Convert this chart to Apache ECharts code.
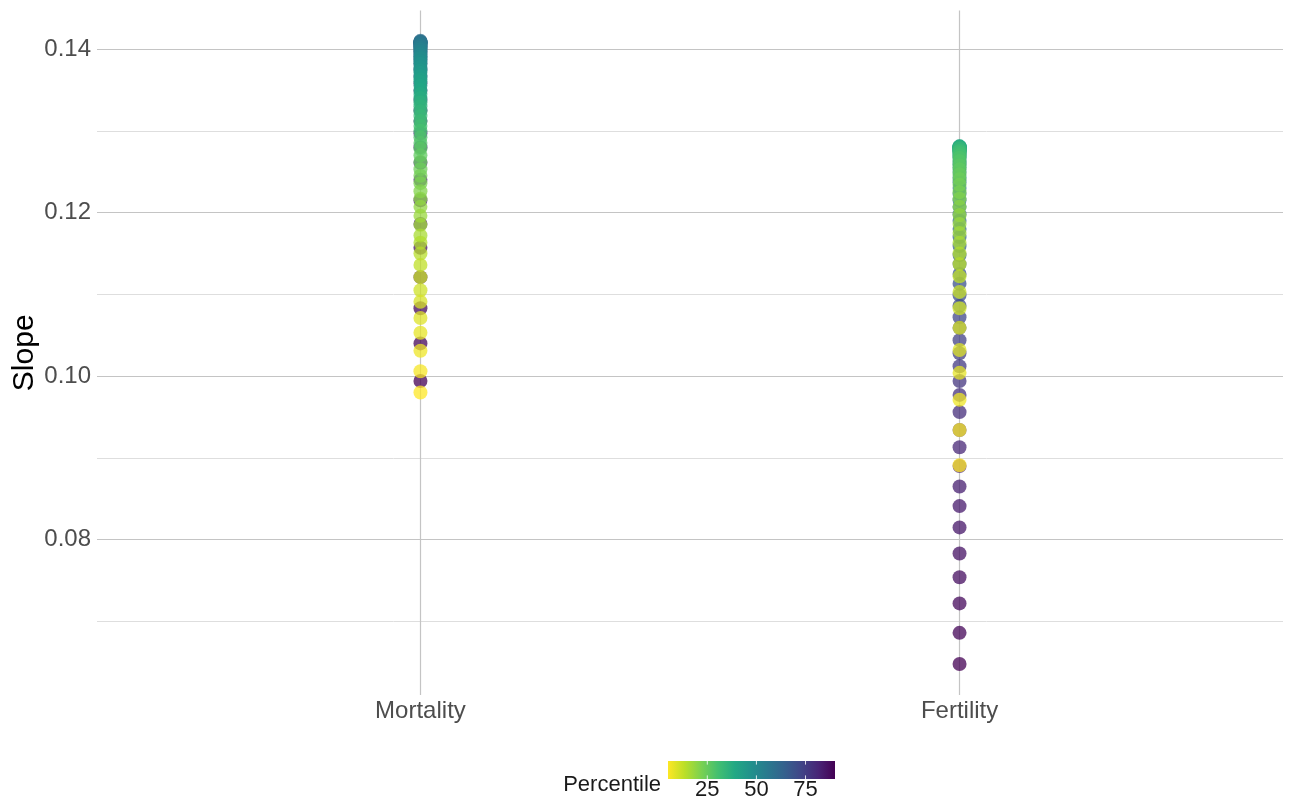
<!DOCTYPE html>
<html>
<head>
<meta charset="utf-8">
<script src="https://cdn.jsdelivr.net/npm/echarts@6/dist/echarts.min.js"></script>
<style>
html, body { margin: 0; padding: 0; background: #fff; }
#chart { width: 1296px; height: 810px; }
</style>
</head>
<body>
<div id="chart"></div>
<script>
// categories on the x axis
var categories = ['Mortality', 'Fertility'];

// percentile of each point (same for both categories)
var percentiles = [
  5, 6, 7, 8, 9, 10, 11, 12, 13, 14, 15, 16, 17, 18, 19, 20, 21, 22, 23, 24,
  25, 26, 27, 28, 29, 30, 31, 32, 33, 34, 35, 36, 37, 38, 39, 40, 41, 42, 43, 44,
  45, 46, 47, 48, 49, 50, 51, 52, 53, 54, 55, 56, 57, 58, 59, 60, 61, 62, 63, 64,
  65, 66, 67, 68, 69, 70, 71, 72, 73, 74, 75, 76, 77, 78, 79, 80, 81, 82, 83, 84,
  85, 86, 87, 88, 89, 90
];

// slope, one per percentile
var mortalitySlope = [
  0.0980, 0.1006, 0.1031, 0.1053, 0.1071, 0.1091, 0.1105, 0.1121, 0.1136, 0.1150,
  0.1163, 0.1172, 0.1185, 0.1196, 0.1207, 0.1217, 0.1226, 0.1236, 0.1245, 0.1253,
  0.1262, 0.1270, 0.1278, 0.1285, 0.1292, 0.1300, 0.1306, 0.1312, 0.1318, 0.1324,
  0.1330, 0.1335, 0.1340, 0.1345, 0.1350, 0.1355, 0.1360, 0.1363, 0.1367, 0.1371,
  0.1374, 0.1378, 0.1382, 0.1385, 0.1389, 0.1391, 0.1394, 0.1397, 0.1400, 0.1402,
  0.1404, 0.1406, 0.1408, 0.1409, 0.1410, 0.1409, 0.1408, 0.1408, 0.1407, 0.1406,
  0.1405, 0.1403, 0.1401, 0.1398, 0.1395, 0.1391, 0.1387, 0.1382, 0.1375, 0.1367,
  0.1358, 0.1349, 0.1338, 0.1325, 0.1312, 0.1297, 0.1280, 0.1261, 0.1240, 0.1215,
  0.1186, 0.1157, 0.1121, 0.1083, 0.1040, 0.0994
];
var fertilitySlope = [
  0.0891, 0.0934, 0.0971, 0.1004, 0.1032, 0.1059, 0.1083, 0.1103, 0.1122, 0.1137,
  0.1150, 0.1163, 0.1175, 0.1186, 0.1197, 0.1207, 0.1217, 0.1225, 0.1234, 0.1241,
  0.1247, 0.1253, 0.1258, 0.1263, 0.1267, 0.1270, 0.1273, 0.1275, 0.1276, 0.1278,
  0.1279, 0.1280, 0.1280, 0.1281, 0.1281, 0.1280, 0.1280, 0.1279, 0.1278, 0.1277,
  0.1276, 0.1275, 0.1274, 0.1272, 0.1269, 0.1267, 0.1263, 0.1259, 0.1255, 0.1250,
  0.1243, 0.1237, 0.1230, 0.1223, 0.1215, 0.1207, 0.1198, 0.1190, 0.1180, 0.1170,
  0.1159, 0.1148, 0.1137, 0.1125, 0.1113, 0.1099, 0.1086, 0.1072, 0.1059, 0.1044,
  0.1028, 0.1012, 0.0994, 0.0977, 0.0956, 0.0934, 0.0913, 0.0890, 0.0865, 0.0841,
  0.0815, 0.0783, 0.0754, 0.0722, 0.0686, 0.0648
];

var yMajorTicks = [0.08, 0.10, 0.12, 0.14];
var yMinorTicks = [0.07, 0.09, 0.11, 0.13];
var legendTicks = [25, 50, 75];

// viridis, low -> high; the chart uses it reversed (yellow = low percentile)
var viridis = ['#440154', '#482576', '#414487', '#35608D', '#2A788E', '#21908C',
               '#22A884', '#43BF71', '#7AD151', '#BBDF27', '#FDE725'];
var viridisRev = viridis.slice().reverse();

var pMin = Math.min.apply(null, percentiles);
var pMax = Math.max.apply(null, percentiles);

// points: [x position, slope, percentile]; high percentiles first so low ones sit on top
var points = [];
[mortalitySlope, fertilitySlope].forEach(function (arr, ci) {
  for (var i = percentiles.length - 1; i >= 0; i--) {
    points.push([ci + 1, arr[i], percentiles[i]]);
  }
});

// grid lines
var gridLines = [];
yMinorTicks.forEach(function (v) {
  gridLines.push({ yAxis: v, lineStyle: { color: '#dedede', width: 1, type: 'solid' } });
});
yMajorTicks.forEach(function (v) {
  gridLines.push({ yAxis: v, lineStyle: { color: '#c4c4c4', width: 1.2, type: 'solid' } });
});
categories.forEach(function (c, i) {
  gridLines.push({ xAxis: i + 1, lineStyle: { color: '#c4c4c4', width: 1.2, type: 'solid' } });
});

// colour bar legend
var bar = { x: 668, y: 761, w: 167, h: 18 };
var legendEls = [];
legendEls.push({
  type: 'rect',
  shape: { x: bar.x, y: bar.y, width: bar.w, height: bar.h },
  style: {
    fill: new echarts.graphic.LinearGradient(0, 0, 1, 0, viridisRev.map(function (c, i) {
      return { offset: i / (viridisRev.length - 1), color: c };
    }))
  }
});
legendTicks.forEach(function (t) {
  var tx = bar.x + (t - pMin) / (pMax - pMin) * bar.w;
  legendEls.push({ type: 'line', shape: { x1: tx, y1: bar.y, x2: tx, y2: bar.y + bar.h / 5 },
    style: { stroke: 'rgba(255,255,255,0.8)', lineWidth: 1 } });
  legendEls.push({ type: 'line', shape: { x1: tx, y1: bar.y + bar.h * 4 / 5, x2: tx, y2: bar.y + bar.h },
    style: { stroke: 'rgba(255,255,255,0.8)', lineWidth: 1 } });
  legendEls.push({ type: 'text', x: tx, y: bar.y + bar.h + 11,
    style: { text: String(t), fill: '#1a1a1a', font: '22px "Liberation Sans", Arial, sans-serif',
      textAlign: 'center', textVerticalAlign: 'middle' } });
});
legendEls.push({ type: 'text', x: bar.x - 7, y: bar.y + 24,
  style: { text: 'Percentile', fill: '#1a1a1a', font: '22px "Liberation Sans", Arial, sans-serif',
    textAlign: 'right', textVerticalAlign: 'middle' } });

var chart = echarts.init(document.getElementById('chart'));
chart.setOption({
  animation: false,
  backgroundColor: '#ffffff',
  textStyle: { fontFamily: '"Liberation Sans", Arial, sans-serif' },
  grid: { left: 97, right: 13, top: 10.6, bottom: 115, containLabel: false, outerBoundsMode: 'none' },
  xAxis: {
    type: 'value',
    min: 0.4,
    max: 2.6,
    axisLine: { show: false },
    axisTick: { show: false },
    splitLine: { show: false },
    axisLabel: {
      customValues: categories.map(function (c, i) { return i + 1; }),
      formatter: function (v) { return categories[Math.round(v) - 1] || ''; },
      fontSize: 24,
      color: '#4d4d4d',
      margin: 4
    }
  },
  yAxis: {
    type: 'value',
    min: 0.0610,
    max: 0.1447,
    name: 'Slope',
    nameLocation: 'middle',
    nameRotate: 90,
    nameGap: 57,
    nameMoveOverlap: false,
    nameTextStyle: { fontSize: 30, color: '#000000' },
    axisLine: { show: false },
    axisTick: { show: false },
    splitLine: { show: false },
    axisLabel: {
      customValues: yMajorTicks,
      formatter: function (v) { return v.toFixed(2); },
      fontSize: 24,
      color: '#4d4d4d',
      margin: 6
    }
  },
  visualMap: {
    type: 'continuous',
    show: false,
    dimension: 2,
    min: pMin,
    max: pMax,
    seriesIndex: 1,
    inRange: { color: viridisRev }
  },
  graphic: legendEls,
  series: [
    {
      type: 'scatter',
      data: [],
      silent: true,
      z: 1,
      markLine: {
        silent: true,
        symbol: ['none', 'none'],
        label: { show: false },
        z: 1,
        data: gridLines
      }
    },
    {
      type: 'scatter',
      data: points,
      symbol: 'circle',
      symbolSize: 14,
      z: 3,
      itemStyle: { opacity: 0.75 }
    }
  ]
});
</script>
</body>
</html>
